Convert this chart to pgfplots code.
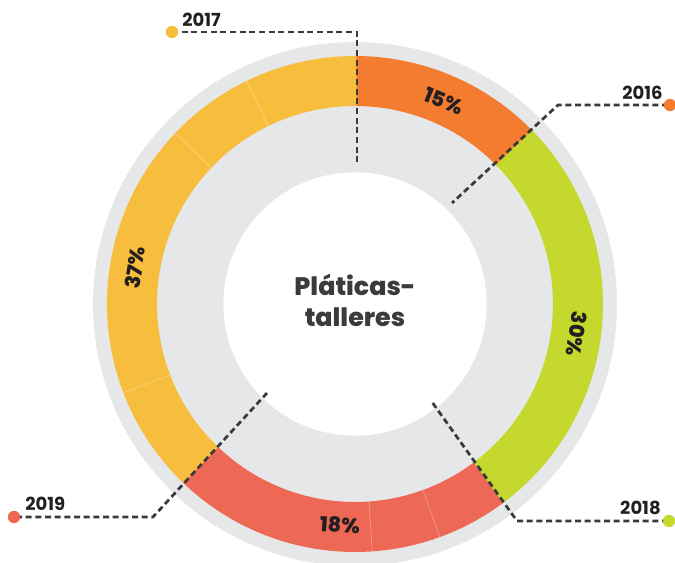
\documentclass[border=0pt]{standalone}
\usepackage{pgfplots}
\pgfplotsset{compat=1.18}
\usepackage{pgfplotstable}
\usepackage{fontspec}
\newfontfamily\pop{Poppins}
\newfontfamily\popx{Poppins}[UprightFont=* ExtraBold]
\definecolor{cOrange}{HTML}{F47C30}
\definecolor{cGreen}{HTML}{C5D82E}
\definecolor{cRed}{HTML}{EE6856}
\definecolor{cYellow}{HTML}{F7BD3C}
\definecolor{cGray}{HTML}{E6E7E8}
\definecolor{cLead}{HTML}{3A3A3A}
\definecolor{cText}{HTML}{231F20}
\definecolor{cCenter}{HTML}{3B3B3B}

% slices: start and end angle (deg) as drawn
\pgfplotstableread{
start end col
90 44.6 cOrange
44.6 -53.3 cGreen
-53.3 -133.8 cRed
-133.8 -270 cYellow
}\slices

\begin{document}
\begin{tikzpicture}
\begin{axis}[
  hide axis,
  x=0.6pt, y=0.6pt,
  xmin=0, xmax=675, ymin=0, ymax=563,
  clip=true,
  leader/.style={cLead, line width=1.65pt, dash pattern=on 3.6pt off 2.2pt, mark=none},
]
% background rings
\fill[cGray] (axis cs:355,259) circle[radius=157.2pt];
% colored slices
\pgfplotsinvokeforeach{0,...,3}{
  \pgfplotstablegetelem{#1}{start}\of\slices \let\sa\pgfplotsretval
  \pgfplotstablegetelem{#1}{end}\of\slices \let\ea\pgfplotsretval
  \pgfplotstablegetelem{#1}{col}\of\slices \let\cc\pgfplotsretval
  \edef\temp{\noexpand\draw[line width=30pt, color=\cc]
    (axis cs:{355+223*cos(\sa)},{259+223*sin(\sa)})
    arc[start angle=\sa, end angle={\ea-0.4}, radius=133.8pt];}
  \temp
}
\fill[white] (axis cs:355,259) circle[radius=79pt];
% faint sub-divisions
\pgfplotsinvokeforeach{116,136.5,201,-70,-86}{
  \draw[white, opacity=0.35, line width=0.4pt]
    (axis cs:{355+198*cos(#1)},{259+198*sin(#1)}) -- (axis cs:{355+248*cos(#1)},{259+248*sin(#1)});
}
% leader lines
\addplot[leader] coordinates {(172,531) (357,531) (357,398)};
\addplot[leader] coordinates {(668,458) (558,458) (452,360)};
\addplot[leader] coordinates {(668,42) (517,42) (432,161)};
\addplot[leader] coordinates {(16,46) (153,46) (267,170)};
% dots
\addplot[only marks, mark=*, mark size=3.5pt, color=cYellow] coordinates {(172,531)};
\addplot[only marks, mark=*, mark size=3.5pt, color=cOrange] coordinates {(670,458)};
\addplot[only marks, mark=*, mark size=3.5pt, color=cGreen] coordinates {(669,42)};
\addplot[only marks, mark=*, mark size=3.5pt, color=cRed] coordinates {(14,46)};
% year labels
\node[font=\pop\bfseries\fontsize{10.8}{12}\selectfont, text=cText, anchor=base west, inner sep=0] at (axis cs:182,536) {2017};
\node[font=\pop\bfseries\fontsize{10.8}{12}\selectfont, text=cText, anchor=base east, inner sep=0] at (axis cs:663,463) {2016};
\node[font=\pop\bfseries\fontsize{10.8}{12}\selectfont, text=cText, anchor=base east, inner sep=0] at (axis cs:661,48) {2018};
\node[font=\pop\bfseries\fontsize{10.8}{12}\selectfont, text=cText, anchor=base west, inner sep=0] at (axis cs:25,52) {2019};
% percentages
\node[font=\popx\fontsize{12.4}{14}\selectfont, text=cText, rotate=-22, inner sep=0] at (axis cs:444,462) {15\%};
\node[font=\popx\fontsize{12.4}{14}\selectfont, text=cText, rotate=-98, inner sep=0] at (axis cs:577,229) {30\%};
\node[font=\popx\fontsize{12.4}{14}\selectfont, text=cText, rotate=-4, inner sep=0] at (axis cs:340,38) {18\%};
\node[font=\popx\fontsize{12.4}{14}\selectfont, text=cText, rotate=81, inner sep=0] at (axis cs:135,295) {37\%};
% center
\node[font=\popx\fontsize{15.2}{18.6}\selectfont, text=cCenter, align=center, inner sep=0] at (axis cs:355,263) {Pláticas-\\talleres};
\end{axis}
\pgfresetboundingbox
\path (current axis.south west) rectangle (current axis.north east);
\end{tikzpicture}
\end{document}
